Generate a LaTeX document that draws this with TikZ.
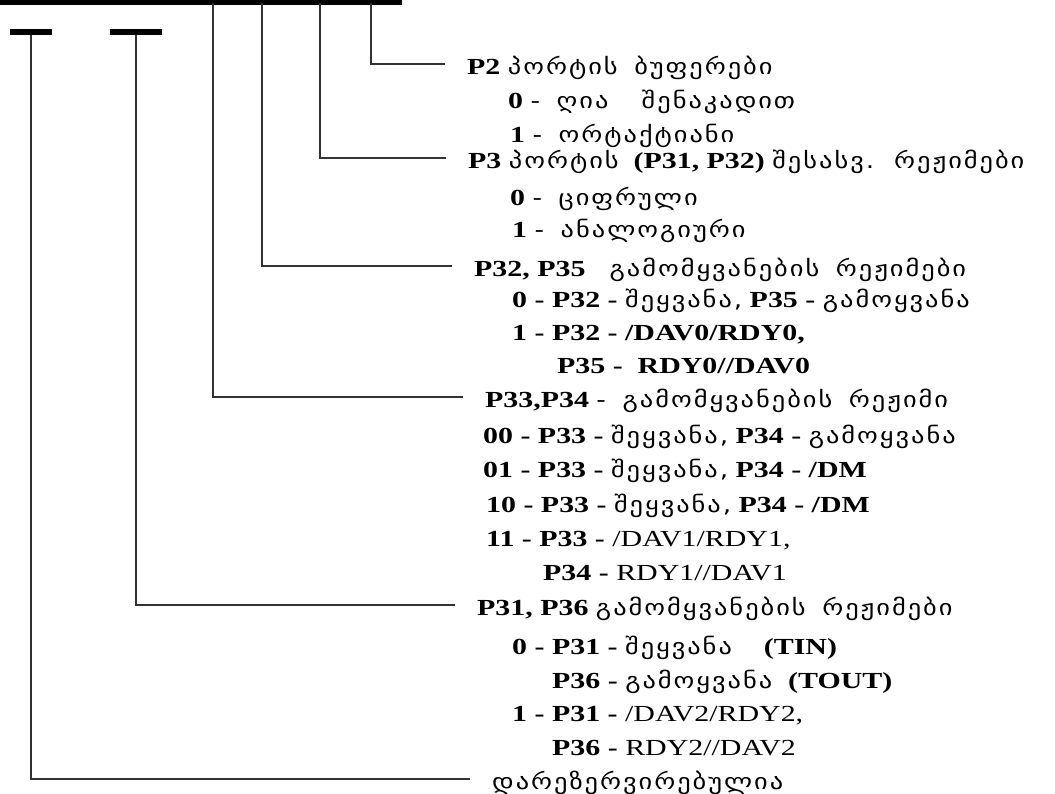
\documentclass[tikz,border=0pt]{standalone}
\usepackage{fontspec}
\setmainfont{Liberation Serif}[FakeStretch=1.3]
\newfontfamily\kafont{DejaVu Sans}[FakeStretch=1.2, LetterSpace=9, WordSpace=1.6]
\newcommand{\ka}[1]{{\kafont\mdseries\fontsize{22}{26}\selectfont #1}}

\begin{document}
\begin{tikzpicture}[x=1pt, y=-1pt,
  every node/.style={inner sep=0pt, font=\fontsize{23}{27}\selectfont\bfseries},
  head/.style={anchor=west, text height=25pt, text depth=5pt},
  item/.style={anchor=base west},
  tap/.style={draw=black!80, line width=1.4pt, shorten >=22pt},
  bar/.style={fill=black, minimum height=6pt}]

\useasboundingbox (0,0) rectangle (1055,793);

% bus and short bars
\node[bar, minimum width=402pt, anchor=north west] (bus) at (0,-1) {};
\node[bar, minimum width=42pt] (resbar) at (31,32) {};
\node[bar, minimum width=52pt] (tbar) at (136,32) {};

\coordinate (tap2) at (371,3);
\coordinate (tap3) at (320,3);
\coordinate (tap35) at (262,3);
\coordinate (tap34) at (213,3);

% headers
\node[head] (p2) at (467,64) {P2 \ka{პორტის ბუფერები}};
\node[head] (p3) at (468,158) {P3 \ka{პორტის} \ (P31, P32) \ka{შესასვ. რეჟიმები}};
\node[head] (p35) at (474,266) {P32, P35 \ka{\ გამომყვანების რეჟიმები}};
\node[head] (p34) at (485,397) {P33,P34 \ka{- გამომყვანების რეჟიმი}};
\node[head] (p36) at (477,605) {P31, P36 \ka{გამომყვანების რეჟიმები}};
\node[head] (res) at (492,779) {\ka{დარეზერვირებულია}};

% values
\node[item] (p2a) at (508,108) {0 \ka{- ღია \ შენაკადით}};
\node[item] (p2b) at (510,142) {1 \ka{- ორტაქტიანი}};
\node[item] (p3a) at (510,205) {0 \ka{- ციფრული}};
\node[item] (p3b) at (512,237) {1 \ka{- ანალოგიური}};
\node[item] (p35a) at (512,307) {0 - P32 - \ka{შეყვანა,} P35 - \ka{გამოყვანა}};
\node[item] (p35b) at (512,340) {1 - P32 - /DAV0/RDY0,};
\node[item] (p35c) at (557,373) {P35 - \ RDY0//DAV0};
\node[item] (p34a) at (483,443) {00 - P33 - \ka{შეყვანა,} P34 - \ka{გამოყვანა}};
\node[item] (p34b) at (483,477) {01 - P33 - \ka{შეყვანა,} P34 - /DM};
\node[item] (p34c) at (486,512) {10 - P33 - \ka{შეყვანა,} P34 - /DM};
\node[item] (p34d) at (486,546) {11 - P33 - \mdseries /DAV1/RDY1,};
\node[item] (p34e) at (543,580) {P34 - \mdseries RDY1//DAV1};
\node[item] (p36a) at (512,654) {0 - P31 - \ka{შეყვანა}\hspace{32pt}(TIN)};
\node[item] (p36b) at (552,688) {P36 - \ka{გამოყვანა}\hspace{16pt}(TOUT)};
\node[item] (p36c) at (512,721) {1 - P31 - \mdseries /DAV2/RDY2,};
\node[item] (p36d) at (552,755) {P36 - \mdseries RDY2//DAV2};

% connectors
\draw[tap] (tap2) |- (p2.west);
\draw[tap] (tap3) |- (p3.west);
\draw[tap] (tap35) |- (p35.west);
\draw[tap] (tap34) |- (p34.west);
\draw[tap] (tbar.south) |- (p36.west);
\draw[tap] (resbar.south) |- (res.west);
\end{tikzpicture}
\end{document}
